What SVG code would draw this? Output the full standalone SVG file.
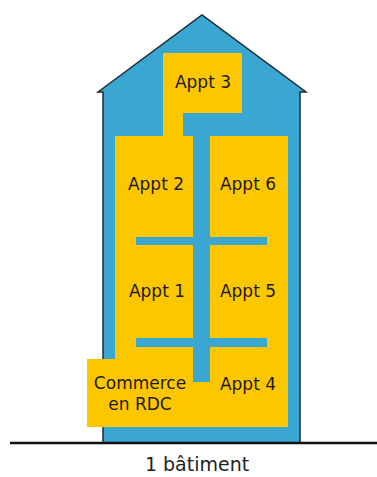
<svg xmlns="http://www.w3.org/2000/svg" width="377" height="477" viewBox="0 0 377 477">
  <style>
    .house { fill: #3aa7d3; stroke: #1f2b33; stroke-width: 1.5; stroke-linejoin: miter; }
    .room { fill: #fdc700; }
    .hall { fill: #3aa7d3; }
    .lbl { font-family: "DejaVu Sans", Verdana, sans-serif; font-size: 17px; fill: #1d1a12; text-anchor: middle; }
    .cap { font-family: "DejaVu Sans", Verdana, sans-serif; font-size: 19px; fill: #222; text-anchor: middle; }
  </style>
  <rect width="377" height="477" fill="#ffffff"/>
  <g id="batiment">
    <polygon class="house" points="98,92 202,15 306,92 300,92 300,443 103,443 103,92"/>
  </g>
  <g id="appt3">
    <rect class="room" x="163" y="53" width="79" height="60"/>
    <rect class="room" x="163" y="110" width="20" height="30"/>
    <text class="lbl" x="203" y="88">Appt 3</text>
  </g>
  <g id="etages">
    <rect class="room" x="115" y="136" width="173" height="291"/>
  </g>
  <g id="commerce">
    <rect class="room" x="87" y="359" width="106" height="68"/>
    <text class="lbl" x="140" y="389">Commerce</text>
    <text class="lbl" x="140" y="410">en RDC</text>
  </g>
  <g id="couloirs">
    <rect class="hall" x="193" y="113" width="17" height="269"/>
    <rect class="hall" x="136" y="237" width="131" height="8"/>
    <rect class="hall" x="136" y="338" width="131" height="9"/>
  </g>
  <g id="appt2"><text class="lbl" x="156" y="190">Appt 2</text></g>
  <g id="appt6"><text class="lbl" x="248" y="190">Appt 6</text></g>
  <g id="appt1"><text class="lbl" x="157" y="297">Appt 1</text></g>
  <g id="appt5"><text class="lbl" x="248" y="297">Appt 5</text></g>
  <g id="appt4"><text class="lbl" x="248" y="390">Appt 4</text></g>
  <g id="sol">
    <line x1="10" y1="443" x2="377" y2="443" stroke="#111" stroke-width="2.7"/>
    <text class="cap" x="197" y="471">1 bâtiment</text>
  </g>
</svg>
